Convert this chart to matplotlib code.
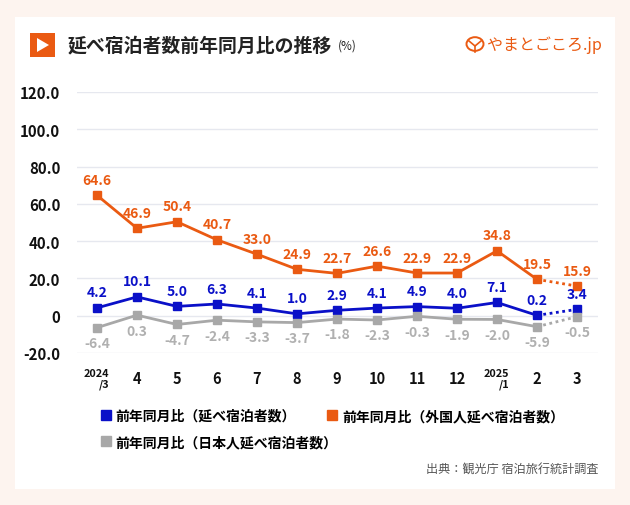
import matplotlib
matplotlib.use("Agg")
import matplotlib.pyplot as plt
from matplotlib.patches import Rectangle, Circle, Polygon
from matplotlib.lines import Line2D

plt.rcParams['font.family'] = ['Noto Sans CJK JP', 'DejaVu Sans']

months = ["2024\n/3", "4", "5", "6", "7", "8", "9", "10", "11", "12", "2025\n/1", "2", "3"]
total = [4.2, 10.1, 5.0, 6.3, 4.1, 1.0, 2.9, 4.1, 4.9, 4.0, 7.1, 0.2, 3.4]
foreign = [64.6, 46.9, 50.4, 40.7, 33.0, 24.9, 22.7, 26.6, 22.9, 22.9, 34.8, 19.5, 15.9]
japanese = [-6.4, 0.3, -4.7, -2.4, -3.3, -3.7, -1.8, -2.3, -0.3, -1.9, -2.0, -5.9, -0.5]
yticks = [-20, 0, 20, 40, 60, 80, 100, 120]
ytick_labels = ["-20.0", "0", "20.0", "40.0", "60.0", "80.0", "100.0", "120.0"]

BLUE = "#0A10C8"
ORANGE = "#EA5A12"
GRAY = "#A8A8A8"
GRAY_TXT = "#B0B0B0"

W, H = 630, 506
fig = plt.figure(figsize=(W / 100, H / 100), dpi=100)
fig.patch.set_facecolor("#FDF4EF")
# white card
fig.patches.append(Rectangle((15 / W, 1 - 490 / H), 600 / W, 472 / H,
                             transform=fig.transFigure, facecolor="white",
                             edgecolor="none", zorder=-10))

# header: orange play icon
fig.patches.append(Rectangle((30 / W, 1 - 58 / H), 25 / W, 24 / H,
                             transform=fig.transFigure, facecolor="#EA5A12",
                             edgecolor="none", zorder=1))
fig.patches.append(Polygon([(37 / W, 1 - 39 / H), (37 / W, 1 - 53 / H), (49 / W, 1 - 46 / H)],
                           closed=True, transform=fig.transFigure,
                           facecolor="white", edgecolor="none", zorder=2))
fig.text(68 / W, 1 - 46 / H, "延べ宿泊者数前年同月比の推移", fontsize=13.6,
         fontweight="bold", color="#222222", va="center", ha="left")
fig.text(338 / W, 1 - 46 / H, "(%)", fontsize=8.5, color="#222222",
         va="center", ha="left")

# logo
fig.patches.append(Circle((475 / W, 1 - 45 / H), 8.5 / W, transform=fig.transFigure,
                          facecolor="none", edgecolor=ORANGE, lw=1.4, zorder=2))
fig.add_artist(Line2D([469 / W, 475 / W, 481 / W], [1 - 42 / H, 1 - 47 / H, 1 - 42 / H],
                      transform=fig.transFigure, color=ORANGE, lw=1.2))
fig.add_artist(Line2D([475 / W, 475 / W], [1 - 47 / H, 1 - 53 / H],
                      transform=fig.transFigure, color=ORANGE, lw=1.2))
fig.text(487 / W, 1 - 45 / H, "やまとごころ.jp", fontsize=11.5, color=ORANGE,
         va="center", ha="left")

# axes
ax = fig.add_axes([77 / W, 1 - 354 / H, 521 / W, 261 / H])
ax.set_facecolor("none")
x = list(range(len(months)))
ax.set_xlim(-0.5, 12.525)
ax.set_ylim(-20, 120)
ax.set_yticks(yticks)
ax.set_yticklabels(ytick_labels, fontsize=10.8, fontweight="bold", color="#111111")
ax.set_xticks(x)
ax.set_xticklabels([])
ax.tick_params(length=0, pad=12)
for s in ax.spines.values():
    s.set_visible(False)
ax.grid(axis="y", color="#E6E8EF", lw=1)
ax.set_axisbelow(True)

for i, m in enumerate(months):
    if "\n" in m:
        ax.text(i + 0.3, -33.5, m, fontsize=7.8, fontweight="bold", ha="right",
                multialignment="right", va="center", linespacing=1.05,
                color="#111111")
    else:
        ax.text(i, -33.5, m, fontsize=10.5, fontweight="bold", ha="center",
                va="center", color="#111111")

for vals, col, txtcol, off, va in [(foreign, ORANGE, ORANGE, 4.5, "bottom"),
                                    (total, BLUE, BLUE, 4.5, "bottom"),
                                    (japanese, GRAY, GRAY_TXT, -4.5, "top")]:
    ax.plot(x[:12], vals[:12], color=col, lw=2, zorder=3)
    ax.plot(x[11:], vals[11:], color=col, lw=2, ls=(0, (1, 1.3)), zorder=3)
    ax.plot(x, vals, ls="none", marker="s", ms=6, color=col, zorder=4)
    for xi, v in zip(x, vals):
        ax.text(xi, v + off, f"{v:.1f}", color=txtcol, fontsize=10,
                fontweight="bold", ha="center", va=va, zorder=5)

# legend (two rows)
prop = {"family": ["Noto Sans CJK JP"], "weight": "bold", "size": 10}
sq = dict(ls="none", marker="s", ms=7)
fig.legend([Line2D([], [], color=BLUE, **sq), Line2D([], [], color=ORANGE, **sq)],
           ["前年同月比（延べ宿泊者数）", "前年同月比（外国人延べ宿泊者数）"],
           loc="center left", bbox_to_anchor=(95 / W, 1 - 417 / H),
           ncol=2, frameon=False, handlelength=0.8, handletextpad=0.3,
           columnspacing=2.2, prop=prop, borderaxespad=0)
fig.legend([Line2D([], [], color=GRAY, **sq)],
           ["前年同月比（日本人延べ宿泊者数）"],
           loc="center left", bbox_to_anchor=(95 / W, 1 - 443 / H),
           frameon=False, handlelength=0.8, handletextpad=0.3, prop=prop,
           borderaxespad=0)

fig.text(598 / W, 1 - 470 / H, "出典：観光庁 宿泊旅行統計調査", fontsize=8.7,
         color="#555555", ha="right", va="center")

fig.savefig("out.png", dpi=100, facecolor=fig.get_facecolor())
